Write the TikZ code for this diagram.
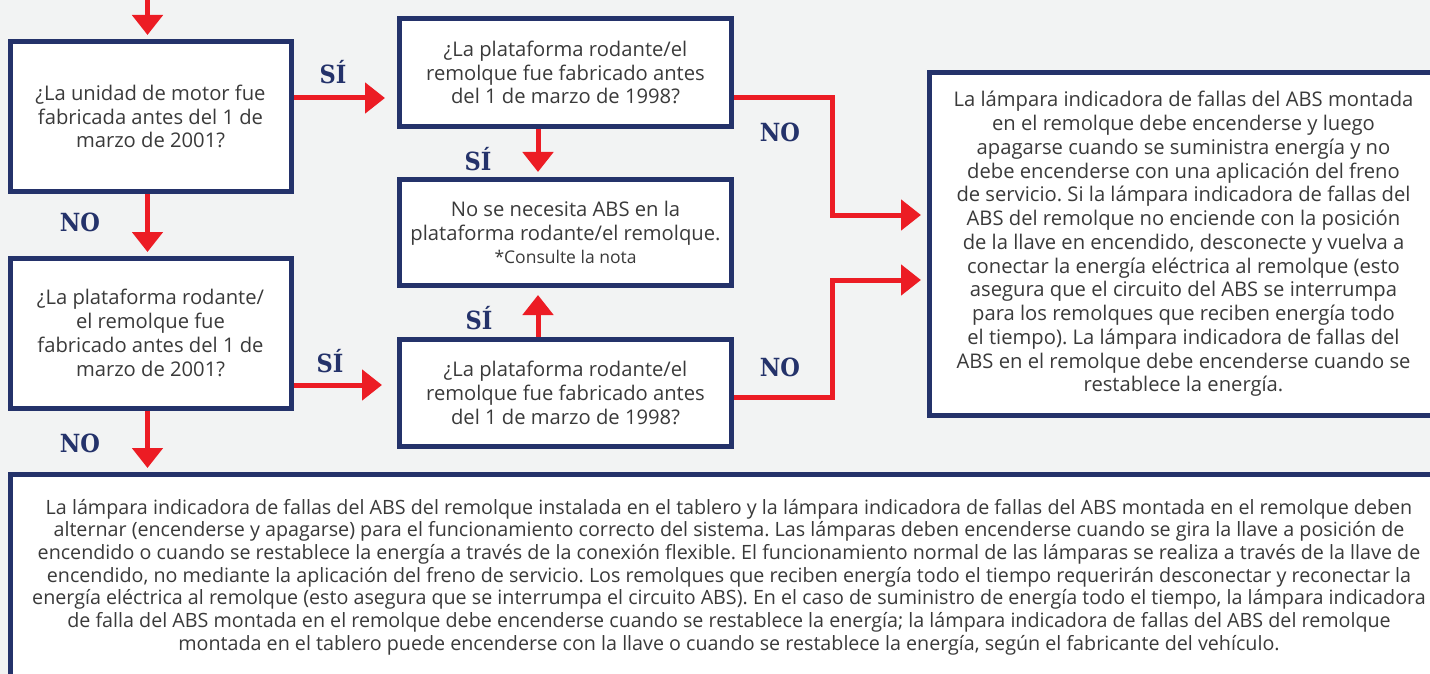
\documentclass[tikz,border=0pt]{standalone}
\usepackage{fontspec}
\setmainfont{Open Sans}
\newfontfamily\answerfont{DejaVu Serif Condensed}
\usetikzlibrary{arrows.meta}
\definecolor{bgcol}{HTML}{F2F3F3}
\definecolor{navy}{HTML}{24326A}
\definecolor{flowred}{HTML}{EC1C24}
\definecolor{textcol}{HTML}{3A3A3A}
\frenchspacing
\begin{document}
\begin{tikzpicture}[x=1pt,y=-1pt,
    box/.style={draw=navy,line width=5pt,fill=white,text=textcol,align=center,
      inner sep=0pt,font={\fontsize{20.2}{23.75}\selectfont}},
    flow/.style={draw=flowred,line width=5pt,-{Triangle[width=30pt,length=20pt]},shorten >=5pt},
    answer/.style={text=navy,font={\answerfont\bfseries\fontsize{25}{25}\selectfont}}]
    \useasboundingbox (0,0) rectangle (1430,674);
    \fill[bgcol] (0,0) rectangle (1430,674);
    \node[box,minimum width=281,minimum height=150] (A) at (150.5,116.5)
      {¿La unidad de motor fue\\fabricada antes del 1 de\\marzo de 2001?};
    \node[box,minimum width=281,minimum height=150] (E) at (150.5,333)
      {¿La plataforma rodante/\\el remolque fue\\fabricado antes del 1 de\\marzo de 2001?};
    \node[box,minimum width=332,minimum height=108] (B) at (565.5,72.5)
      {¿La plataforma rodante/el\\remolque fue fabricado antes\\del 1 de marzo de 1998?};
    \node[box,minimum width=332,minimum height=106] (C) at (565.5,232.5)
      {No se necesita ABS en la\\plataforma rodante/el remolque.\\[-1pt]{\fontsize{17.5}{20}\selectfont *Consulte la nota}};
    \node[box,minimum width=332,minimum height=106.5] (D) at (565.5,393)
      {¿La plataforma rodante/el\\remolque fue fabricado antes\\del 1 de marzo de 1998?};
    \node[box,minimum width=509,minimum height=342] (F) at (1183.5,244)
      {La lámpara indicadora de fallas del ABS montada\\en el remolque debe encenderse y luego\\apagarse cuando se suministra energía y no\\debe encenderse con una aplicación del freno\\de servicio. Si la lámpara indicadora de fallas del\\ABS del remolque no enciende con la posición\\de la llave en encendido, desconecte y vuelva a\\conectar la energía eléctrica al remolque (esto\\asegura que el circuito del ABS se interrumpa\\para los remolques que reciben energía todo\\el tiempo). La lámpara indicadora de fallas del\\ABS en el remolque debe encenderse cuando se\\restablece la energía.};
    \node[box,minimum width=1438,minimum height=205,font={\fontsize{19.7}{22.7}\selectfont}] (G) at (729,577)
      {La lámpara indicadora de fallas del ABS del remolque instalada en el tablero y la lámpara indicadora de fallas del ABS montada en el remolque deben\\alternar (encenderse y apagarse) para el funcionamiento correcto del sistema. Las lámparas deben encenderse cuando se gira la llave a posición de\\encendido o cuando se restablece la energía a través de la conexión flexible. El funcionamiento normal de las lámparas se realiza a través de la llave de\\encendido, no mediante la aplicación del freno de servicio. Los remolques que reciben energía todo el tiempo requerirán desconectar y reconectar la\\energía eléctrica al remolque (esto asegura que se interrumpa el circuito ABS). En el caso de suministro de energía todo el tiempo, la lámpara indicadora\\de falla del ABS montada en el remolque debe encenderse cuando se restablece la energía; la lámpara indicadora de fallas del ABS del remolque\\montada en el tablero puede encenderse con la llave o cuando se restablece la energía, según el fabricante del vehículo.};
    % answers
    \node[answer] (siA) at (333,72) {SÍ};
    \node[answer] (noA) at (80,222) {NO};
    \node[answer] (siE) at (330,361) {SÍ};
    \node[answer] (noE) at (80,443) {NO};
    \node[answer] (siB) at (478,159) {SÍ};
    \node[answer] (siD) at (479,318) {SÍ};
    \node[answer] (noB) at (780,132) {NO};
    \node[answer] (noD) at (780,367) {NO};
    % connectors
    \coordinate (start) at (147.5,0);
    \draw[flow,shorten >=4pt] (start) -- ([xshift=-3pt]A.north);
    \draw[flow,shorten >=12pt] ([yshift=18.5pt]A.east) -- ([yshift=18.5pt]A.east -| B.west);
    \draw[flow,shorten >=3.5pt] ([xshift=-3pt]A.south) -- ([xshift=-3pt]E.north);
    \draw[flow,shorten >=15pt] ([yshift=8pt]D.west -| E.east) -- ([yshift=8pt]D.west);
    \draw[flow,shorten >=4pt] ([xshift=-3pt]E.south) -- ([xshift=-3pt]E.south |- G.north);
    \draw[flow] ([xshift=-27.5pt]B.south) -- ([xshift=-27.5pt]C.north);
    \draw[flow,shorten >=7pt] ([xshift=-27.5pt]D.north) -- ([xshift=-27.5pt]C.south);
    \draw[flow,shorten >=5.5pt] ([yshift=-25.5pt]B.east) -| ([xshift=-94.5pt,yshift=29pt]F.west) -- ([yshift=29pt]F.west);
    \draw[flow,shorten >=5.5pt] ([yshift=-4pt]D.east) -| ([xshift=-94.5pt,yshift=-36pt]F.west) -- ([yshift=-36pt]F.west);
\end{tikzpicture}
\end{document}
